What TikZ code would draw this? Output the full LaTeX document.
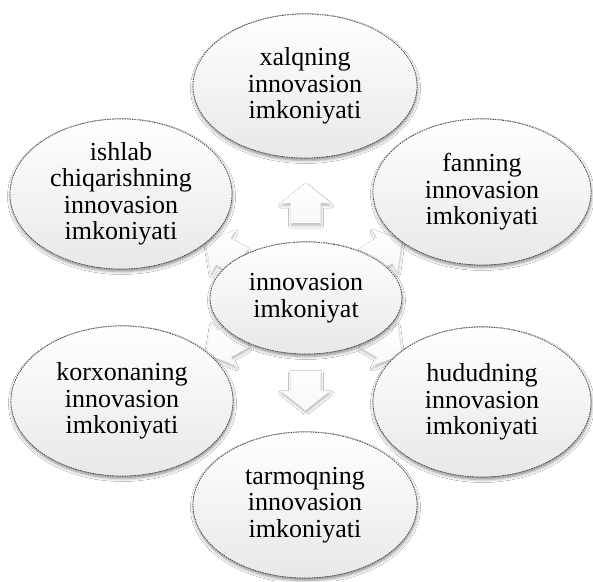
\documentclass[tikz,border=0pt]{standalone}
\usepackage{fontspec}
\setmainfont{Liberation Serif}
\usetikzlibrary{shapes.geometric,shadows.blur,calc}
\begin{document}
\begin{tikzpicture}[x=1pt,y=-1pt,
  bub/.style={ellipse, draw=gray!55!black, dash pattern=on 1.6pt off 0.9pt,
    line width=0.7pt, top color=white, bottom color=gray!18, inner sep=0pt,
    align=center, font=\fontsize{26}{26.5}\selectfont,
    blur shadow={shadow xshift=0.5pt, shadow yshift=-2.5pt,
      shadow blur radius=3pt, shadow opacity=45}},
  barrow/.style={top color=white, bottom color=gray!6, draw=none,
    blur shadow={shadow xshift=0.5pt, shadow yshift=-2.5pt,
      shadow blur radius=2.5pt, shadow opacity=28}}]
\useasboundingbox (0,0) rectangle (593,581);
\fill[white] (0,0) rectangle (593,581);
% hub positions used for the block arrows
\coordinate (cc) at (306,298);
\coordinate (ct) at (305,86);
\coordinate (ctr) at (482,192);
\coordinate (cbr) at (482,402);
\coordinate (cb) at (305,505);
\coordinate (cbl) at (122,401);
\coordinate (ctl) at (121,194);
% block arrows (drawn first, partly hidden by the bubbles)
\def\blockarrow{(-20,-15) -- (0,-15) -- (0,-25) -- (20,0) -- (0,25) -- (0,15) -- (-20,15) -- cycle}
\path[barrow, shift={($(cc)!0.447!(ct)$)}, rotate=90] \blockarrow;
\path[barrow, shift={($(cc)!0.447!(cb)$)}, rotate=-90] \blockarrow;
\path[barrow, shift={($(cc)!0.447!(ctl)$)}, rotate=150.7] \blockarrow;
\path[barrow, shift={($(cc)!0.447!(ctr)$)}, rotate=30.9] \blockarrow;
\path[barrow, shift={($(cc)!0.447!(cbl)$)}, rotate=209.2] \blockarrow;
\path[barrow, shift={($(cc)!0.447!(cbr)$)}, rotate=-30.4] \blockarrow;
% bubbles
\node[bub, minimum width=192pt, minimum height=112pt] (c) at (cc) {innovasion\\imkoniyat};
\node[bub, minimum width=224pt, minimum height=144pt] (t) at (ct) {xalqning\\innovasion\\imkoniyati};
\node[bub, minimum width=218pt, minimum height=146pt] (tr) at (ctr) {fanning\\innovasion\\imkoniyati};
\node[bub, minimum width=218pt, minimum height=150pt] (br) at (cbr) {hududning\\innovasion\\imkoniyati};
\node[bub, minimum width=224pt, minimum height=146pt] (b) at (cb) {tarmoqning\\innovasion\\imkoniyati};
\node[bub, minimum width=222pt, minimum height=150pt] (bl) at (cbl) {korxonaning\\innovasion\\imkoniyati};
\node[bub, minimum width=222pt, minimum height=150pt] (tl) at (ctl) {ishlab\\chiqarishning\\innovasion\\imkoniyati};
\end{tikzpicture}
\end{document}
